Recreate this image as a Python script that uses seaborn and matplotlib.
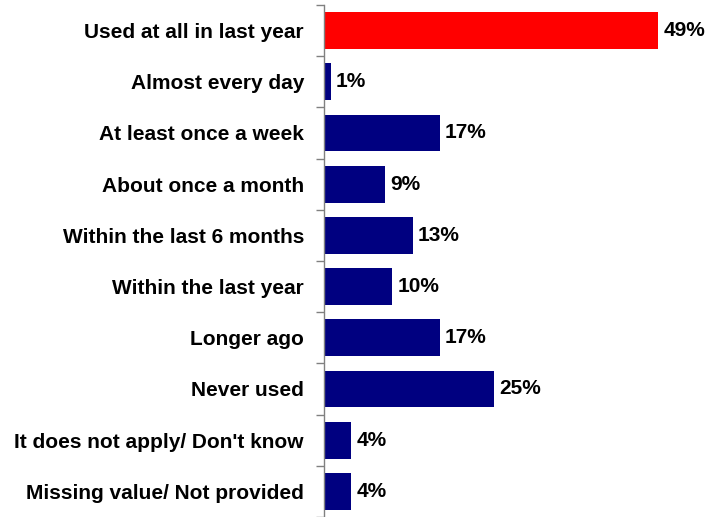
import matplotlib
matplotlib.use("Agg")
import matplotlib.pyplot as plt
import seaborn as sns
import pandas as pd
import numpy as np

categories = [
    "Used at all in last year",
    "Almost every day",
    "At least once a week",
    "About once a month",
    "Within the last 6 months",
    "Within the last year",
    "Longer ago",
    "Never used",
    "It does not apply/ Don't know",
    "Missing value/ Not provided",
]
values = [49, 1, 17, 9, 13, 10, 17, 25, 4, 4]
bar_colors = ["#FF0000"] + ["#000080"] * 9

sns.set_theme(style="white")
plt.rcParams["font.family"] = ["Liberation Sans", "DejaVu Sans"]

df = pd.DataFrame({"category": categories, "value": values})

fig = plt.figure(figsize=(7.06, 5.17), dpi=100)
ax = fig.add_axes([324 / 706, 0.0, 375 / 706, 512 / 517])

sns.barplot(data=df, x="value", y="category", hue="category",
            palette=bar_colors, legend=False, width=0.72,
            saturation=1, linewidth=0, ax=ax, orient="h")

ax.set_xlim(0, 55)
ax.set_ylim(len(categories) - 0.5, -0.5)
ax.set_xlabel("")
ax.set_ylabel("")
ax.set_xticks([])

for s in ["top", "right", "bottom"]:
    ax.spines[s].set_visible(False)
ax.spines["left"].set_color("#808080")
ax.spines["left"].set_linewidth(1.0)

# Category labels with boundary ticks between rows
ax.set_yticks(range(len(categories)))
ax.set_yticklabels(categories, fontsize=15, fontweight="bold", color="black")
ax.tick_params(axis="y", which="major", length=0, pad=14.4)
ax.set_yticks(np.arange(-0.5, len(categories), 1.0), minor=True)
ax.tick_params(axis="y", which="minor", length=6, width=1.0, color="#808080",
               direction="out", left=True)

for i, v in enumerate(values):
    ax.text(v + 0.75, i, f"{v}%", va="center", ha="left",
            fontsize=15, fontweight="bold", color="black")

fig.savefig("out.png", dpi=100)
